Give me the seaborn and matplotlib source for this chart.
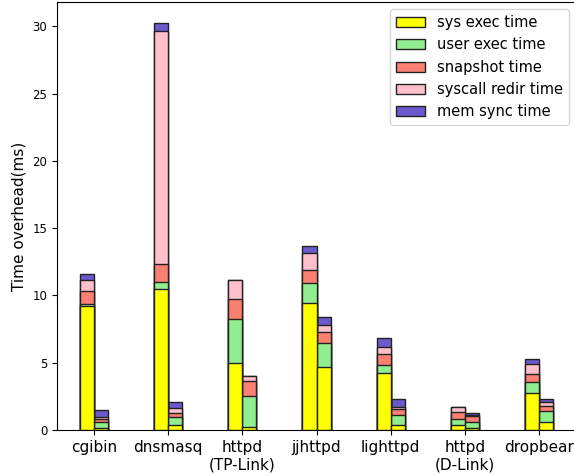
import numpy as np
import pandas as pd
import matplotlib
matplotlib.use("Agg")
import matplotlib.pyplot as plt
import seaborn as sns
from matplotlib.patches import Patch

categories = ["cgibin", "dnsmasq", "httpd\n(TP-Link)", "jjhttpd", "lighttpd", "httpd\n(D-Link)", "dropbear"]
variants = ["A", "B"]
layers = ["sys exec time", "user exec time", "snapshot time", "syscall redir time", "mem sync time"]
colors = ["#ffff00", "#90ee90", "#fa8072", "#ffc0cb", "#6a5acd"]

# left bar of each category
sys_a     = [9.25, 10.50, 4.95, 9.40, 4.26, 0.35, 2.72]
user_a    = [0.10, 0.50, 3.27, 1.49, 0.59, 0.49, 0.87]
snap_a    = [0.98, 1.37, 1.48, 0.99, 0.79, 0.52, 0.57]
redir_a   = [0.82, 17.25, 1.44, 1.24, 0.50, 0.32, 0.74]
mem_a     = [0.42, 0.63, 0.00, 0.54, 0.67, 0.00, 0.40]
# right bar of each category
sys_b     = [0.17, 0.37, 0.25, 4.65, 0.35, 0.15, 0.62]
user_b    = [0.42, 0.62, 2.27, 1.78, 0.76, 0.42, 0.81]
snap_b    = [0.20, 0.24, 1.14, 0.84, 0.45, 0.49, 0.35]
redir_b   = [0.20, 0.43, 0.37, 0.50, 0.17, 0.05, 0.30]
mem_b     = [0.50, 0.44, 0.00, 0.64, 0.55, 0.13, 0.20]

vals_a = [sys_a, user_a, snap_a, redir_a, mem_a]
vals_b = [sys_b, user_b, snap_b, redir_b, mem_b]

rows = []
for li, name in enumerate(layers):
    for ci, cat in enumerate(categories):
        rows.append(dict(category=cat, variant="A", layer=name, value=vals_a[li][ci]))
        rows.append(dict(category=cat, variant="B", layer=name, value=vals_b[li][ci]))
df = pd.DataFrame(rows)
df["layer_idx"] = df["layer"].map({n: i for i, n in enumerate(layers)})
df = df.sort_values(["category", "variant", "layer_idx"])
df["cum"] = df.groupby(["category", "variant"], sort=False)["value"].cumsum()

fig = plt.figure(figsize=(5.74, 4.75), dpi=100)
ax = fig.add_axes([57 / 574, 45 / 475, 519 / 574, 428 / 475])

# cumulative overdraw: top layer first
for li in reversed(range(len(layers))):
    sub = df[df["layer_idx"] == li]
    sns.barplot(data=sub, x="category", y="cum", hue="variant", order=categories,
                hue_order=variants, palette=[colors[li], colors[li]], width=0.38,
                dodge=True, edgecolor="#222222", linewidth=1.0, saturation=1,
                legend=False, ax=ax, zorder=2 + (len(layers) - li))

ax.set_xlabel("")
ax.set_ylabel("Time overhead(ms)", fontsize=11)
ax.tick_params(axis="x", labelsize=11)
ax.tick_params(axis="y", labelsize=8.5)
ax.set_ylim(0, 31.8)
ax.set_yticks([0, 5, 10, 15, 20, 25, 30])

handles = [Patch(facecolor=c, edgecolor="#222222", label=n) for c, n in zip(colors, layers)]
ax.legend(handles=handles, loc="upper right", fontsize=10.5)

fig.savefig("out.png", dpi=100)
